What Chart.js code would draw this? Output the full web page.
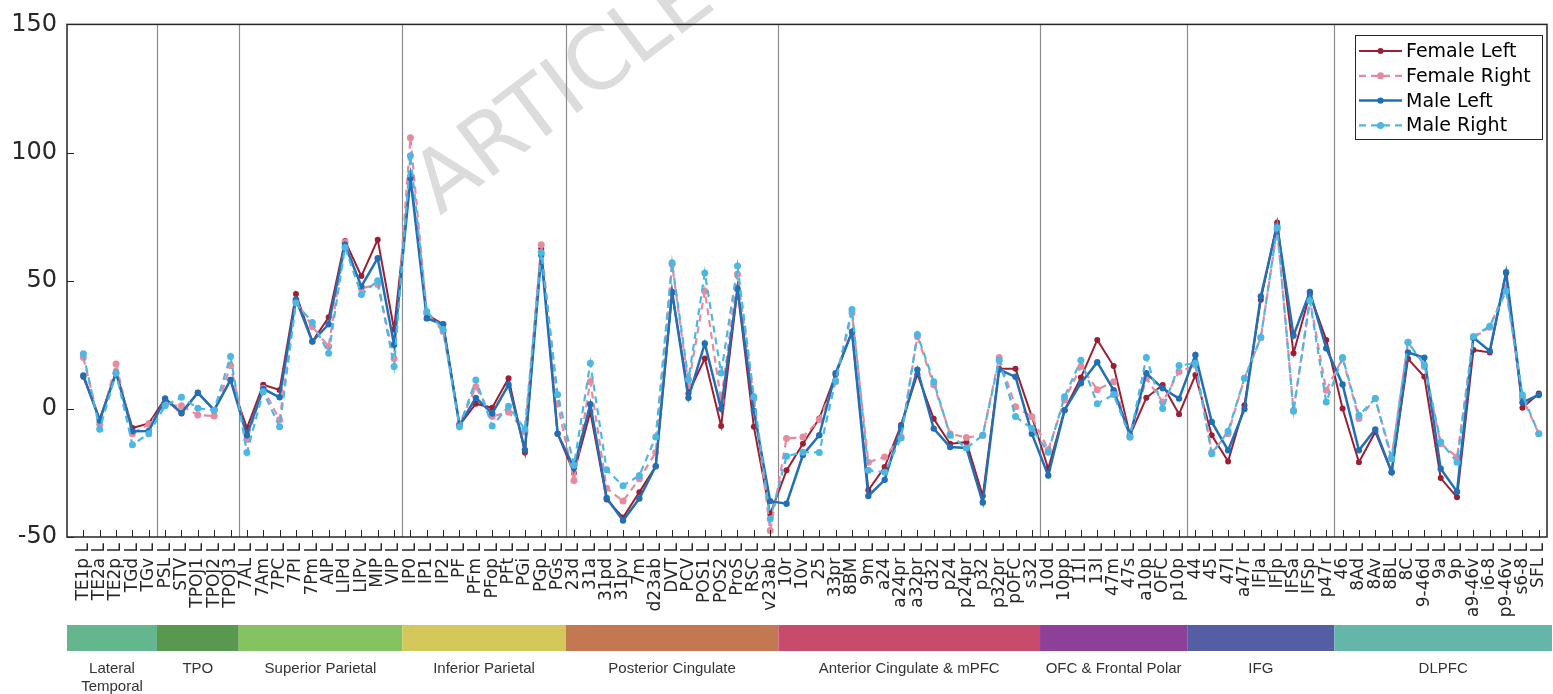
<!DOCTYPE html>
<html>
<head>
<meta charset="utf-8">
<script src="https://cdn.jsdelivr.net/npm/chart.js@4.4.1/dist/chart.umd.min.js"></script>
<style>
  html, body { margin: 0; padding: 0; background: #fff; }
</style>
</head>
<body>
<canvas id="chart" width="1553" height="694"></canvas>
<script>
// regions (left hemisphere), in plot order
const regions = [
  'TE1p L', 'TE2a L', 'TE2p L', 'TGd L', 'TGv L',
  'PSL L', 'STV L', 'TPOJ1 L', 'TPOJ2 L', 'TPOJ3 L',
  '7AL L', '7Am L', '7PC L', '7PI L', '7Pm L', 'AIP L', 'LIPd L', 'LIPv L', 'MIP L', 'VIP L',
  'IP0 L', 'IP1 L', 'IP2 L', 'PF L', 'PFm L', 'PFop L', 'PFt L', 'PGi L', 'PGp L', 'PGs L',
  '23d L', '31a L', '31pd L', '31pv L', '7m L', 'd23ab L', 'DVT L', 'PCV L', 'POS1 L', 'POS2 L', 'ProS L', 'RSC L', 'v23ab L',
  '10r L', '10v L', '25 L', '33pr L', '8BM L', '9m L', 'a24 L', 'a24pr L', 'a32pr L', 'd32 L', 'p24 L', 'p24pr L', 'p32 L', 'p32pr L', 'pOFC L', 's32 L',
  '10d L', '10pp L', '11l L', '13l L', '47m L', '47s L', 'a10p L', 'OFC L', 'p10p L',
  '44 L', '45 L', '47l L', 'a47r L', 'IFJa L', 'IFJp L', 'IFSa L', 'IFSp L', 'p47r L',
  '46 L', '8Ad L', '8Av L', '8BL L', '8C L', '9-46d L', '9a L', '9p L', 'a9-46v L', 'i6-8 L', 'p9-46v L', 's6-8 L', 'SFL L'
]

const femaleLeft = [
  12.5, -4, 14.5, -7.5, -5.7,
  4, -1.8, 6.3, -0.5, 11.3,
  -7.5, 9.4, 7.4, 44.8, 26.3, 35.7, 65.5, 51.8, 66, 31,
  91, 36.8, 33, -6.4, 2, 0.4, 11.9, -17, 62.5, -9.7,
  -25, -1.2, -35.4, -42.4, -32.5, -22.4, 45.2, 6, 19.6, -6.7, 46.6, -7, -41,
  -24, -13.6, -3.8, 13.3, 30.2, -31.8, -22.7, -6.3, 13.5, -3.9, -13.6, -13, -34, 15.6, 15.6, -3.1,
  -23.4, -0.5, 12.2, 26.9, 16.7, -10.3, 4.3, 9.3, -2.1,
  13.2, -10.3, -20.5, 1.4, 42.6, 72.7, 21.7, 44.8, 26.9,
  0.1, -20.8, -9, -24.7, 19.5, 12.5, -27, -34.5, 23, 22, 53, 0.4, 6
]

const femaleRight = [
  20, -6, 17.5, -9.7, -6,
  1.5, 1.2, -2.4, -2.8, 17,
  -12, 8, -4.3, 42.3, 32, 24.3, 65, 47, 48.5, 19.6,
  105.8, 37.4, 30.2, -6, 8.6, -3, -1.2, -9, 64, 2,
  -28, 10.6, -31, -36, -27.3, -17, 56.4, 9.4, 45.9, 3.1, 52.5, 4, -47.5,
  -11.6, -11, -4.2, 10.6, 37.4, -20.8, -18.8, -11, 28.2, 9.4, -9.7, -11.2, -10.3, 20, 0.8, -3.1,
  -16, 3.5, 16.5, 7.5, 10.6, -11, 11.9, 2.7, 14.5,
  17, -16.9, -9.7, 11.9, 27.8, 70, -0.5, 42.6, 7.3,
  19.7, -3.8, 4, -18.8, 26, 16.5, -13.6, -18.8, 27.8, 31.8, 47.5, 4.3, -9.7
]

const maleLeft = [
  13, -4.5, 14, -8.7, -8.6,
  4, -1.5, 6.3, -0.5, 11.3,
  -10.3, 7.8, 4.5, 42.7, 26.3, 33, 64, 47.8, 58.8, 25,
  90, 35.3, 33, -6.4, 4.3, -1.8, 9.4, -16, 60, -9.7,
  -23, 1.8, -34.8, -43.6, -35, -22.4, 45.6, 4.3, 25.5, 0, 47, -0.8, -36,
  -37, -18, -10.3, 13.9, 30, -34, -27.7, -7, 15.3, -7.7, -14.9, -15.3, -36.5, 15.3, 12.5, -9.7,
  -26, -0.5, 10, 18.2, 7.3, -10.3, 13.9, 8, 4,
  21, -5.1, -16.2, -0.1, 43.9, 71.4, 28.6, 45.6, 23.6,
  9.5, -16.2, -8, -24.7, 22, 20, -23.4, -32.3, 27.8, 22.6, 53.3, 2.5, 5.4
]

const maleRight = [
  21.5, -8, 14, -14, -9.7,
  1.2, 4.5, 0.2, -0.5, 20.4,
  -17, 6.7, -7, 41.3, 33.7, 21.7, 63, 44.6, 50, 16.5,
  98.8, 38, 31, -7, 11.3, -6.7, 1, -8, 61, 5.5,
  -22, 17.8, -23.8, -30, -26, -11, 57, 11.5, 53, 14, 55.7, 4.7, -43,
  -18.5, -16.9, -17, 11, 38.8, -24, -24.7, -11.4, 29, 10.6, -10.3, -15.3, -10.3, 19, -3, -7.7,
  -16.9, 4.7, 19, 2, 5.6, -11, 20, 0.1, 16.9,
  17.8, -17.5, -8.7, 11.9, 27.8, 70.7, -0.9, 42.2, 2.7,
  20, -2.5, 4, -19.5, 26, 17.1, -12.9, -20.8, 28.2, 32.2, 45.9, 5.4, -9.7
]

const groupNames = ['Lateral\nTemporal', 'TPO', 'Superior Parietal', 'Inferior Parietal',
  'Posterior Cingulate', 'Anterior Cingulate & mPFC', 'OFC & Frontal Polar', 'IFG', 'DLPFC']
const groupSizes = [5, 5, 10, 10, 13, 16, 9, 9, 13]
const groupColors = ['#64b68e', '#58984f', '#85c262', '#d4c85a', '#c37852',
  '#c64b6d', '#8e3f97', '#565ea3', '#64b7a8']

const yTicks = [-50, 0, 50, 100, 150]

const xMin = -1
const xMax = 89.5
const ink = '#262626'

function points(arr) {
  return arr.map((v, i) => ({ x: i, y: v }))
}

function groupBounds() {
  let out = []
  let start = 0
  groupSizes.forEach((n, g) => {
    out.push({
      from: g === 0 ? xMin : start - 0.5,
      to: g === groupSizes.length - 1 ? xMax : start + n - 0.5
    })
    start += n
  })
  return out
}

const decor = {
  id: 'decor',
  beforeDraw(chart) {
    const ctx = chart.ctx
    // watermark
    ctx.save()
    ctx.translate(440, 216)
    ctx.rotate(-37 * Math.PI / 180)
    ctx.font = '85px "DejaVu Sans"'
    ctx.fillStyle = '#dcdcdc'
    ctx.textBaseline = 'alphabetic'
    ctx.fillText('ARTICLE', 0, 0)
    ctx.restore()
  },
  beforeDatasetsDraw(chart) {
    const ctx = chart.ctx
    const area = chart.chartArea
    const x = chart.scales.x
    ctx.save()
    ctx.strokeStyle = '#8c8c8c'
    ctx.lineWidth = 1.2
    groupBounds().slice(1).forEach(b => {
      const px = Math.round(x.getPixelForValue(b.from)) + 0.5
      ctx.beginPath()
      ctx.moveTo(px, area.top)
      ctx.lineTo(px, area.bottom)
      ctx.stroke()
    })
    ctx.restore()
  },
  afterDraw(chart) {
    const ctx = chart.ctx
    const area = chart.chartArea
    const x = chart.scales.x
    const y = chart.scales.y
    ctx.save()

    // box
    ctx.strokeStyle = ink
    ctx.lineWidth = 1.5
    ctx.strokeRect(area.left, area.top, area.right - area.left, area.bottom - area.top)

    // tick marks (inside)
    ctx.lineWidth = 1
    regions.forEach((r, i) => {
      const px = Math.round(x.getPixelForValue(i)) + 0.5
      ctx.beginPath()
      ctx.moveTo(px, area.bottom)
      ctx.lineTo(px, area.bottom - 7)
      ctx.stroke()
    })
    yTicks.forEach(v => {
      const py = Math.round(y.getPixelForValue(v)) + 0.5
      ctx.beginPath()
      ctx.moveTo(area.left, py)
      ctx.lineTo(area.left + 7, py)
      ctx.stroke()
    })

    // region colour bar and names
    const bounds = groupBounds()
    ctx.font = '15px "Liberation Sans"'
    ctx.textAlign = 'center'
    ctx.textBaseline = 'middle'
    bounds.forEach((b, g) => {
      const x0 = x.getPixelForValue(b.from)
      const x1 = g === bounds.length - 1 ? chart.width - 1 : x.getPixelForValue(b.to)
      ctx.fillStyle = groupColors[g]
      ctx.fillRect(x0, 625, x1 - x0, 26)
      ctx.fillStyle = '#333'
      groupNames[g].split('\n').forEach((line, k) => {
        ctx.fillText(line, (x0 + x1) / 2, 669 + k * 18)
      })
    })

    // legend
    const lx = 1355, ly = 35, lw = 187, lh = 104
    ctx.fillStyle = '#fff'
    ctx.fillRect(lx, ly, lw, lh)
    ctx.strokeStyle = ink
    ctx.lineWidth = 1
    ctx.strokeRect(lx + 0.5, ly + 0.5, lw, lh)
    ctx.font = '19px "DejaVu Sans"'
    ctx.textAlign = 'left'
    ctx.textBaseline = 'middle'
    chart.data.datasets.forEach((ds, k) => {
      const cy = ly + 16 + k * 24.8
      ctx.strokeStyle = ds.borderColor
      ctx.lineWidth = ds.borderWidth
      ctx.setLineDash(ds.borderDash || [])
      ctx.beginPath()
      ctx.moveTo(lx + 4, cy)
      ctx.lineTo(lx + 47, cy)
      ctx.stroke()
      ctx.setLineDash([])
      ctx.fillStyle = ds.borderColor
      ctx.beginPath()
      ctx.arc(lx + 25.5, cy, ds.pointRadius, 0, Math.PI * 2)
      ctx.fill()
      ctx.fillStyle = '#000'
      ctx.fillText(ds.label, lx + 51, cy + 1)
    })
    ctx.restore()
  }
}

const seriesStyle = (label, data, color, dash, width, radius, order) => ({
  label: label,
  data: points(data),
  borderColor: color,
  backgroundColor: color,
  pointBackgroundColor: color,
  pointBorderWidth: 0,
  pointRadius: radius,
  borderWidth: width,
  borderDash: dash,
  tension: 0,
  order: order
})

const config = {
  type: 'line',
  data: {
    datasets: [
      seriesStyle('Female Left', femaleLeft, '#9c1f33', [], 2, 3, 4),
      seriesStyle('Female Right', femaleRight, '#e68aa0', [7, 5], 2.2, 3.5, 3),
      seriesStyle('Male Left', maleLeft, '#2170b5', [], 2.5, 3.2, 2),
      seriesStyle('Male Right', maleRight, '#4cb7e2', [7, 5], 2.2, 3.5, 1)
    ]
  },
  options: {
    responsive: false,
    animation: false,
    layout: { padding: { top: 24, right: 6, left: 0, bottom: 0 } },
    plugins: {
      legend: { display: false },
      tooltip: { enabled: false }
    },
    scales: {
      x: {
        type: 'linear',
        min: xMin,
        max: xMax,
        afterBuildTicks: s => { s.ticks = regions.map((r, i) => ({ value: i })) },
        afterFit: s => {
          s.height = 157
          s.paddingLeft = 0
          s.paddingRight = 0
        },
        ticks: {
          autoSkip: false,
          minRotation: 90,
          maxRotation: 90,
          padding: 6,
          color: ink,
          font: { family: 'DejaVu Sans', size: 17 },
          callback: v => regions[v]
        },
        grid: { display: false, drawTicks: false },
        border: { display: false }
      },
      y: {
        min: -50,
        max: 150,
        afterBuildTicks: s => { s.ticks = yTicks.map(v => ({ value: v })) },
        afterFit: s => { s.width = 67 },
        ticks: {
          padding: 10,
          color: ink,
          font: { family: 'DejaVu Sans', size: 24 }
        },
        grid: { display: false, drawTicks: false },
        border: { display: false }
      }
    }
  },
  plugins: [decor]
}

let chart = new Chart(document.getElementById('chart'), config)
</script>
</body>
</html>
